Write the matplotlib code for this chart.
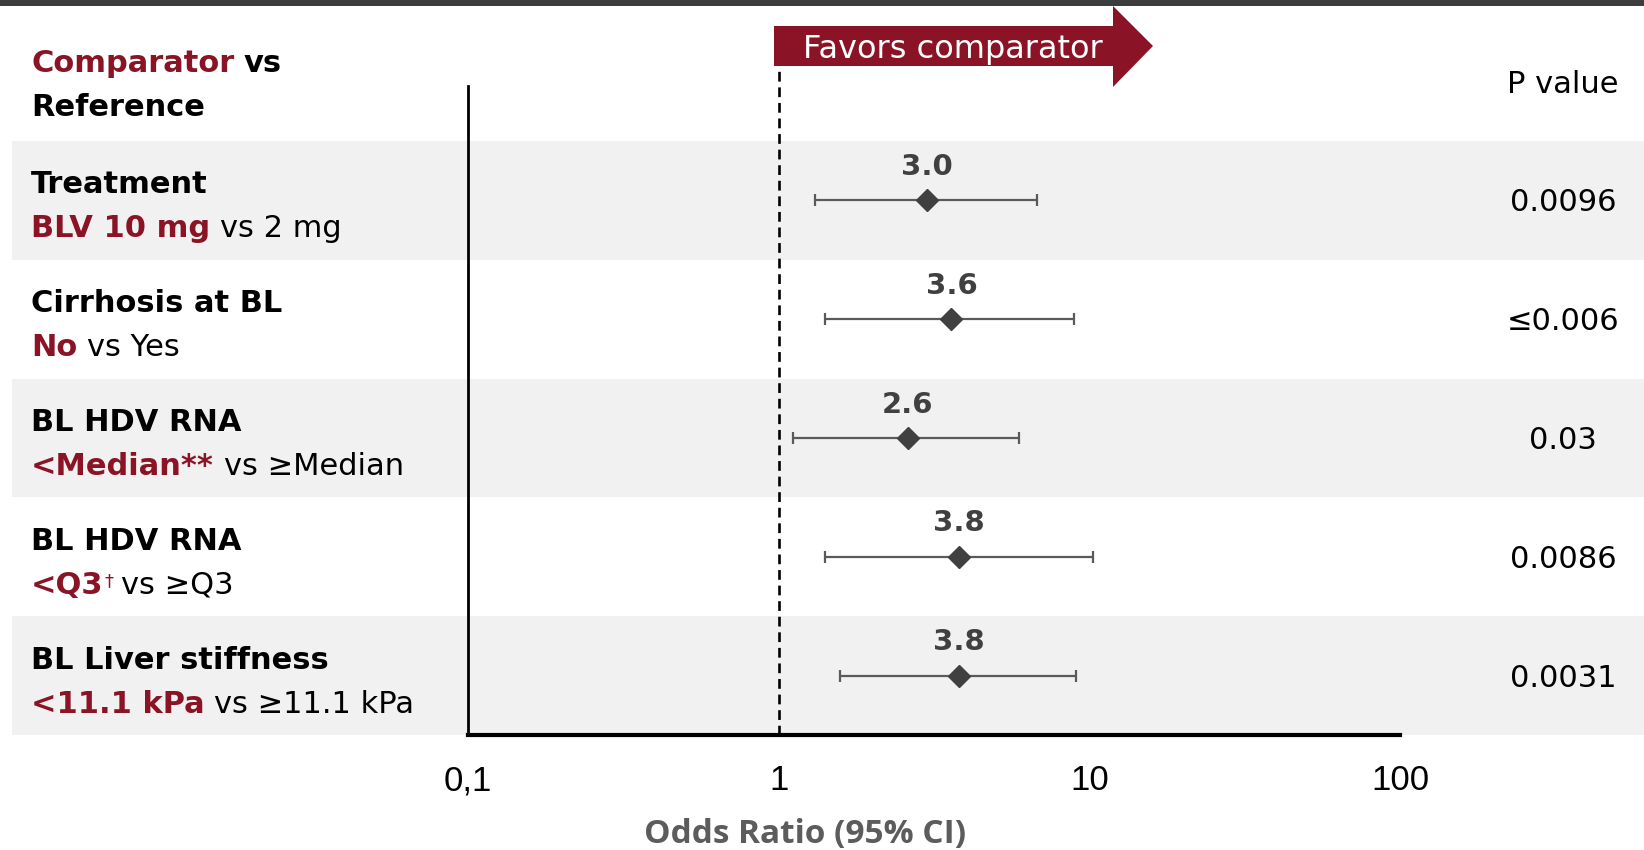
import matplotlib
matplotlib.use('Agg')
import matplotlib.pyplot as plt
from matplotlib.patches import Rectangle, Polygon
from matplotlib.ticker import NullLocator

plt.rcParams['font.family'] = ['DejaVu Sans']

# Subgroups, odds ratios with 95% CI, and p values
groups = ["Treatment", "Cirrhosis at BL", "BL HDV RNA", "BL HDV RNA", "BL Liver stiffness"]
comparators = ["BLV 10 mg", "No", "<Median**", "<Q3", "<11.1 kPa"]
comparator_marks = ["", "", "", "\u2020", ""]
references = ["vs 2 mg", "vs Yes", "vs \u2265Median", "vs \u2265Q3", "vs \u226511.1 kPa"]
odds_ratio = [3.0, 3.6, 2.6, 3.8, 3.8]
ci_low = [1.31, 1.41, 1.11, 1.41, 1.58]
ci_high = [6.80, 8.93, 5.94, 10.3, 9.07]
p_values = ["0.0096", "\u22640.006", "0.03", "0.0086", "0.0031"]
x_ticks = [0.1, 1, 10, 100]
x_ticklabels = ["0,1", "1", "10", "100"]

RED = '#8a1426'
DARK = '#404040'
BAND = '#f1f1f1'
FS = 22

W, H = 1644, 850
fig = plt.figure(figsize=(W / 100, H / 100), dpi=100)

# background layer in pixel units (y down)
bg = fig.add_axes([0, 0, 1, 1])
bg.set_xlim(0, W)
bg.set_ylim(H, 0)
bg.axis('off')

# plot area geometry (pixels)
ax_left, ax_right = 468, 1400
ax_top, ax_bottom = 86, 735
row_h = 118.8
n = len(groups)
first_band = ax_bottom - n * row_h

bg.add_patch(Rectangle((0, 0), W, 6, color='#3d3d3d', lw=0))
for i in range(n):
    if i % 2 == 0:
        bg.add_patch(Rectangle((12, first_band + i * row_h), W - 12, row_h, color=BAND, lw=0))


def rich_line(x, y, parts):
    """Write text pieces (text, color, weight, gap) one after another on a baseline."""
    s, c, w, _ = parts[0]
    t = bg.text(x, y, s, color=c, weight=w, fontsize=FS, va='baseline', ha='left')
    for s, c, w, gap in parts[1:]:
        t = bg.annotate(s, xy=(1, 0), xycoords=t, xytext=(gap, 0), textcoords='offset points',
                        color=c, weight=w, fontsize=FS, va='bottom', ha='left')
    return t


# column header
rich_line(31, 72, [("Comparator", RED, 'bold', 0), ("vs", 'black', 'bold', 7)])
bg.text(31, 116, "Reference", color='black', weight='bold', fontsize=FS, va='baseline')
bg.text(1563, 93, "P value", ha='center', va='baseline', fontsize=FS)

# row labels and p values
for i in range(n):
    yc = first_band + (i + 0.5) * row_h
    bg.text(31, yc - 7, groups[i], weight='bold', fontsize=FS, va='baseline')
    first = bg.text(31, yc + 37, comparators[i], color=RED, weight='bold', fontsize=FS, va='baseline')
    last, gap = first, 7
    if comparator_marks[i]:
        last = bg.annotate(comparator_marks[i], xy=(1, 1), xycoords=first, xytext=(1, -1),
                           textcoords='offset points', color=RED, fontsize=13,
                           va='top', ha='left')
        gap = 5
    bg.annotate(references[i], xy=(1, 0), xycoords=(last, first), xytext=(gap, 0),
                textcoords='offset points', color='black', fontsize=FS, va='bottom', ha='left')
    bg.text(1563, yc + 11, p_values[i], ha='center', va='baseline', fontsize=FS)

# "Favors comparator" arrow
arrow = Polygon([(774, 26), (1113, 26), (1113, 6), (1153, 46), (1113, 87), (1113, 66), (774, 66)],
                closed=True, color=RED, lw=0)
bg.add_patch(arrow)
bg.text(953, 58, "Favors comparator", color='white', fontsize=23, ha='center', va='baseline')

bg.text(805, 834, "Odds Ratio (95% CI)", color='#5c5c5c', weight='bold', fontsize=24,
        family=['Open Sans', 'DejaVu Sans'], ha='center', va='center')

# forest plot axes
ax = fig.add_axes([ax_left / W, (H - ax_bottom) / H, (ax_right - ax_left) / W, (ax_bottom - ax_top) / H])
ax.set_facecolor('none')
ax.set_xscale('log')
ax.set_xlim(0.1, 100)
ax.set_ylim(n - 0.5, n - 0.5 - (ax_bottom - ax_top) / row_h)
rows = list(range(n))

ax.errorbar(odds_ratio, rows,
            xerr=[[o - l for o, l in zip(odds_ratio, ci_low)], [h - o for o, h in zip(odds_ratio, ci_high)]],
            fmt='none', ecolor='#5a5a5a', elinewidth=1.6, capsize=4, capthick=1.6, zorder=2)
ax.plot(odds_ratio, rows, 'D', color=DARK, markersize=11.5, linestyle='none', zorder=3)
for o, r in zip(odds_ratio, rows):
    ax.annotate(f"{o:.1f}", (o, r), xytext=(0, 24), textcoords='offset points',
                ha='center', va='center', fontsize=21, weight='bold', color=DARK)

ax.axvline(1, ymin=0, ymax=(ax_bottom - 70) / (ax_bottom - ax_top), color='black', lw=1.9,
           linestyle=(0, (3.7, 2.2)), clip_on=False, zorder=1)

for side in ['top', 'right']:
    ax.spines[side].set_visible(False)
ax.spines['left'].set_linewidth(2)
ax.spines['bottom'].set_linewidth(3)
ax.set_yticks([])
ax.set_xticks(x_ticks)
ax.set_xticklabels(x_ticklabels, family=['Liberation Sans', 'DejaVu Sans'], fontsize=25)
ax.xaxis.set_minor_locator(NullLocator())
ax.tick_params(axis='x', length=0, pad=21)

fig.savefig('out.png', dpi=100)
